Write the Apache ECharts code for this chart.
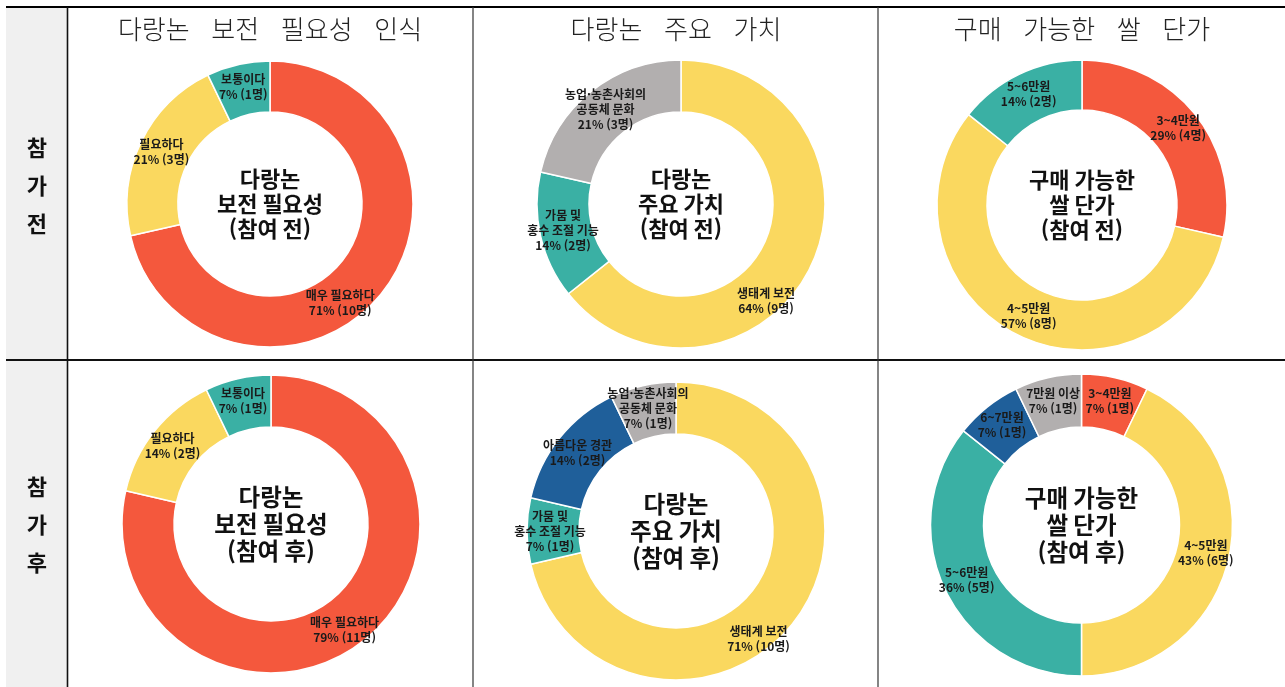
<!DOCTYPE html>
<html lang="ko">
<head>
<meta charset="utf-8">
<title>다랑논 인식 조사</title>
<script src="https://cdn.jsdelivr.net/npm/echarts@6/dist/echarts.min.js"></script>
<style>
  html, body { margin: 0; padding: 0; background: #fff; }
  #chart { width: 1285px; height: 687px; }
</style>
</head>
<body>
<div id="chart"></div>
<script>
// ---- data ----
const columnTitles = ['다랑논 보전 필요성 인식', '다랑논 주요 가치', '구매 가능한 쌀 단가'];
const rowLabels = ['참가전', '참가후'];
const centerTitles = ['다랑논\n보전 필요성', '다랑논\n주요 가치', '구매 가능한\n쌀 단가'];
const stageTags = ['(참여 전)', '(참여 후)'];

const needNames = ['매우 필요하다', '필요하다', '보통이다'];
const needBefore = [10, 3, 1];
const needAfter = [11, 2, 1];

const valueNamesBefore = ['생태계 보전', '가뭄 및\n홍수 조절 기능', '농업·농촌사회의\n공동체 문화'];
const valueBefore = [9, 2, 3];
const valueNamesAfter = ['생태계 보전', '가뭄 및\n홍수 조절 기능', '아름다운 경관', '농업·농촌사회의\n공동체 문화'];
const valueAfter = [10, 1, 2, 1];

const priceNamesBefore = ['3~4만원', '4~5만원', '5~6만원'];
const priceBefore = [4, 8, 2];
const priceNamesAfter = ['3~4만원', '4~5만원', '5~6만원', '6~7만원', '7만원 이상'];
const priceAfter = [1, 6, 5, 1, 1];

// ---- styling ----
const RED = '#F4583D', YELLOW = '#FAD85F', TEAL = '#3AB0A4', GRAY = '#B2AFAF', BLUE = '#1F5F9A';
const sliceColor = {
  '매우 필요하다': RED, '필요하다': YELLOW, '보통이다': TEAL,
  '생태계 보전': YELLOW, '가뭄 및\n홍수 조절 기능': TEAL, '아름다운 경관': BLUE, '농업·농촌사회의\n공동체 문화': GRAY,
  '3~4만원': RED, '4~5만원': YELLOW, '5~6만원': TEAL, '6~7만원': BLUE, '7만원 이상': GRAY
};
const FONT = '"Noto Sans CJK KR", "Noto Sans", sans-serif';
// headings are set with wide gaps between words
const WORD_GAP = '\u2002\u2004';

// table geometry
const W = 1285, H = 687;
const tableLeft = 6, headCol = 67.5, colLines = [473, 878];
const topLine = 7, midLine = 360;
const colCenters = [270, 676, 1082];

// donut cells: row, column, centre, radii, label nudges for the large slices
const cells = [
  { names: needNames,        values: needBefore,  row: 0, col: 0, cx: 270,  cy: 204, r: [92, 143],   nudge: { 0: [-24, 24] } },
  { names: valueNamesBefore, values: valueBefore, row: 0, col: 1, cx: 681,  cy: 204, r: [92, 144],   nudge: { 0: [-24, 44] } },
  { names: priceNamesBefore, values: priceBefore, row: 0, col: 2, cx: 1082, cy: 205, r: [95, 145],   nudge: {} },
  { names: needNames,        values: needAfter,   row: 1, col: 0, cx: 271,  cy: 524, r: [97, 149],   nudge: { 0: [-5, 7] } },
  { names: valueNamesAfter,  values: valueAfter,  row: 1, col: 1, cx: 676,  cy: 531, r: [97, 149],   nudge: { 0: [-16, 29] } },
  { names: priceNamesAfter,  values: priceAfter,  row: 1, col: 2, cx: 1081.5, cy: 525, r: [98, 151], nudge: {} }
];

const series = cells.map(function (c) {
  const total = c.values.reduce(function (a, b) { return a + b; }, 0);
  return {
    type: 'pie',
    center: [c.cx, c.cy],
    radius: c.r,
    startAngle: 90,
    clockwise: true,
    silent: true,
    animation: false,
    avoidLabelOverlap: false,
    itemStyle: { borderColor: '#ffffff', borderWidth: 1.5 },
    label: {
      show: true,
      position: 'inside',
      color: '#1a1a1a',
      fontFamily: FONT,
      fontWeight: 'bold',
      fontSize: 12,
      lineHeight: 15,
      align: 'center',
      formatter: function (p) {
        const pct = Math.round(p.value / total * 100);
        return p.name + '\n' + pct + '% (' + p.value + '명)';
      }
    },
    labelLine: { show: false },
    labelLayout: function (p) {
      const n = c.nudge[p.dataIndex];
      return n ? { dx: n[0], dy: n[1] } : {};
    },
    data: c.names.map(function (name, i) {
      return { name: name, value: c.values[i], itemStyle: { color: sliceColor[name] } };
    })
  };
});

// ---- table frame, headings and centre captions ----
const graphics = [];
graphics.push({ type: 'rect', silent: true, z: -10,
  shape: { x: tableLeft, y: topLine, width: headCol - tableLeft, height: H - topLine },
  style: { fill: '#F0F0F0' } });
graphics.push({ type: 'line', silent: true, shape: { x1: tableLeft, y1: topLine, x2: W, y2: topLine },
  style: { stroke: '#000', lineWidth: 2.2 } });
graphics.push({ type: 'line', silent: true, shape: { x1: tableLeft, y1: midLine, x2: W, y2: midLine },
  style: { stroke: '#111', lineWidth: 2 } });
graphics.push({ type: 'line', silent: true, shape: { x1: headCol, y1: topLine, x2: headCol, y2: H },
  style: { stroke: '#111', lineWidth: 1.6 } });
colLines.forEach(function (x) {
  graphics.push({ type: 'line', silent: true, shape: { x1: x, y1: topLine, x2: x, y2: H },
    style: { stroke: '#333', lineWidth: 1.2 } });
});

columnTitles.forEach(function (t, i) {
  graphics.push({ type: 'text', silent: true,
    style: { text: t.split(' ').join(WORD_GAP), x: colCenters[i], y: 29, align: 'center', verticalAlign: 'middle',
      font: '300 26px ' + FONT, fill: '#222' } });
});

const rowMids = [(topLine + midLine) / 2 + 2, (midLine + H) / 2 + 1];
rowLabels.forEach(function (t, i) {
  graphics.push({ type: 'text', silent: true,
    style: { text: t.split('').join('\n'), x: (tableLeft + headCol) / 2, y: rowMids[i],
      align: 'center', verticalAlign: 'middle', font: 'bold 22px ' + FONT, lineHeight: 38, fill: '#111' } });
});

cells.forEach(function (c) {
  const size = c.row === 0 ? 22 : 23.5;
  graphics.push({ type: 'text', silent: true, z: 10,
    style: { text: centerTitles[c.col] + '\n' + stageTags[c.row], x: c.cx, y: c.cy,
      align: 'center', verticalAlign: 'middle', font: 'bold ' + size + 'px ' + FONT,
      lineHeight: c.row === 0 ? 25 : 27, fill: '#111' } });
});

const chart = echarts.init(document.getElementById('chart'), null, { renderer: 'canvas' });
chart.setOption({
  backgroundColor: '#ffffff',
  animation: false,
  graphic: graphics,
  series: series
});
</script>
</body>
</html>
